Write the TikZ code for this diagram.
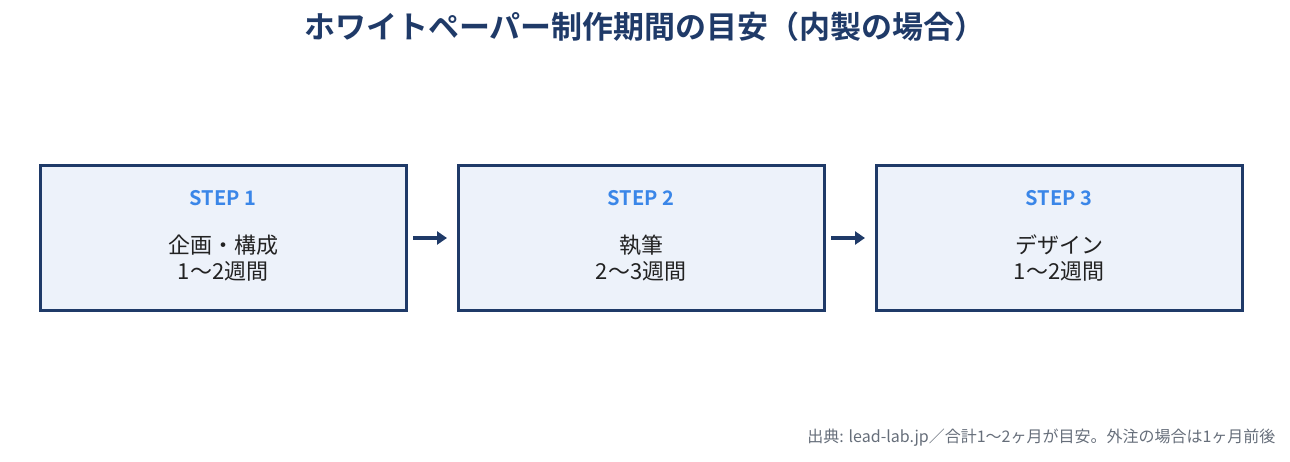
\documentclass[tikz,border=0pt]{standalone}
\usepackage{fontspec}
\setmainfont{Noto Sans CJK JP}[BoldFont={Noto Sans CJK JP Bold}]
\usetikzlibrary{arrows.meta}
\definecolor{navy}{HTML}{1F3A68}
\definecolor{boxfill}{HTML}{EDF2FA}
\definecolor{stepblue}{HTML}{3A86E8}
\definecolor{txt}{HTML}{222222}
\definecolor{note}{HTML}{666E7A}
\begin{document}
\begin{tikzpicture}[x=1pt,y=-1pt,
  box/.style={draw=navy,line width=3pt,fill=boxfill,minimum width=366pt,minimum height=145pt,anchor=north west},
  steplabel/.style={text=stepblue,font=\bfseries\fontsize{20}{22}\selectfont},
  body/.style={text=txt,font=\fontsize{22}{26}\selectfont,align=center},
  arr/.style={draw=navy,line width=3.5pt,-{Triangle[length=10pt,width=13pt]}}]
\useasboundingbox (0,0) rectangle (1290,462);
\node[font=\bfseries\fontsize{31}{34}\selectfont,text=navy] (title) at (645,27) {ホワイトペーパー制作期間の目安（内製の場合）};
\node[box] (b1) at (39,164) {};
\node[box] (b2) at (457,164) {};
\node[box] (b3) at (875,164) {};
\node[steplabel] (s1) at (223,198) {STEP 1};
\node[steplabel] (s2) at (641,198) {STEP 2};
\node[steplabel] (s3) at (1059,198) {STEP 3};
\node[body] (t1) at (223,258) {企画・構成\\1〜2週間};
\node[body] (t2) at (641,258) {執筆\\2〜3週間};
\node[body] (t3) at (1059,258) {デザイン\\1〜2週間};
\coordinate (a1s) at (413,238); \coordinate (a1e) at (447,238);
\coordinate (a2s) at (831,238); \coordinate (a2e) at (865,238);
\draw[arr] (a1s) -- (a1e);
\draw[arr] (a2s) -- (a2e);
\node[anchor=east,text=note,font=\fontsize{16}{18}\selectfont] (src) at (1279,438) {出典: lead-lab.jp／合計1〜2ヶ月が目安。外注の場合は1ヶ月前後};
\end{tikzpicture}
\end{document}
